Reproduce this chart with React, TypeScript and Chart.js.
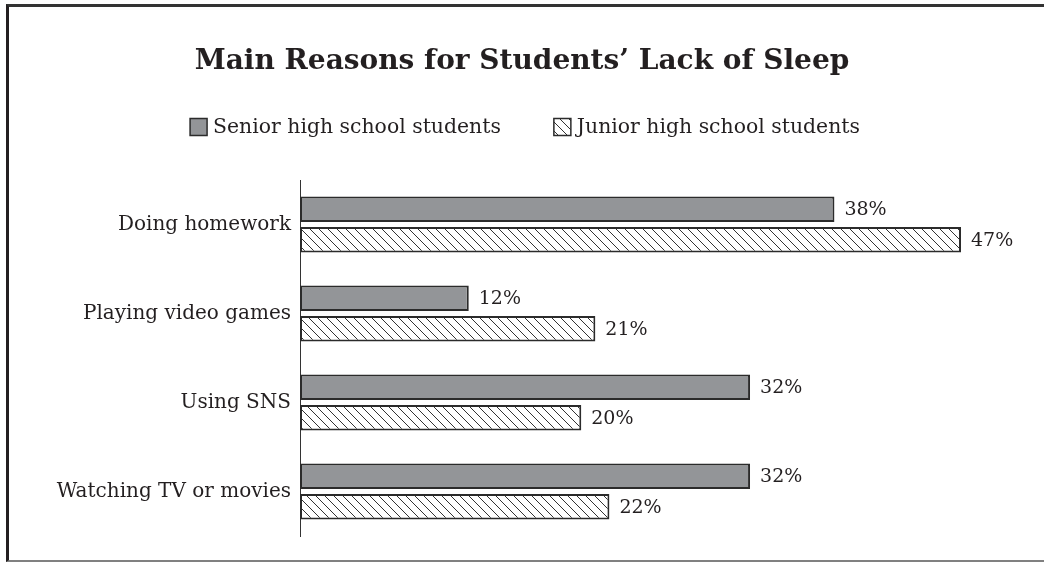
import React, { useEffect, useRef } from "react";
import { Chart, registerables } from "chart.js";

Chart.register(...registerables);

const titleText = "Main Reasons for Students’ Lack of Sleep";
const categories = ["Doing homework", "Playing video games", "Using SNS", "Watching TV or movies"];
const seriesNames = ["Senior high school students", "Junior high school students"];
const seniorValues = [38, 12, 32, 32];
const juniorValues = [47, 21, 20, 22];
const xMax = 52.9;

const FONT = "'DejaVu Serif', 'Liberation Serif', serif";
const TEXT = "#231f20";
const EDGE = "#2b2b2b";
const GRAY = "#939598";

function makeHatch(): CanvasPattern | string {
  const s = 9;
  const c = document.createElement("canvas");
  c.width = s;
  c.height = s;
  const g = c.getContext("2d");
  if (!g) return "#ffffff";
  g.fillStyle = "#ffffff";
  g.fillRect(0, 0, s, s);
  g.strokeStyle = "#333333";
  g.lineWidth = 1;
  g.beginPath();
  g.moveTo(-1, -1);
  g.lineTo(s + 1, s + 1);
  g.moveTo(-1, s - 1);
  g.lineTo(1, s + 1);
  g.moveTo(s - 1, -1);
  g.lineTo(s + 1, 1);
  g.stroke();
  return g.createPattern(c, "repeat") || "#ffffff";
}

const legendPlugin = {
  id: "customLegend",
  afterDraw(chart: any) {
    const ctx = chart.ctx as CanvasRenderingContext2D;
    const box = 17;
    const gapText = 6;
    const gapItem = 53;
    const cy = 127;
    ctx.save();
    ctx.font = `20.4px ${FONT}`;
    ctx.textBaseline = "middle";
    ctx.textAlign = "left";
    const ds = chart.data.datasets;
    const widths = ds.map((d: any) => box + gapText + ctx.measureText(d.label).width);
    const total = widths.reduce((a: number, b: number) => a + b, 0) + gapItem * (ds.length - 1);
    let x = chart.width / 2 + 3 - total / 2;
    ds.forEach((d: any, i: number) => {
      ctx.fillStyle = d.backgroundColor;
      ctx.fillRect(x, cy - box / 2, box, box);
      ctx.strokeStyle = EDGE;
      ctx.lineWidth = 1.5;
      ctx.strokeRect(x, cy - box / 2, box, box);
      ctx.fillStyle = TEXT;
      ctx.fillText(d.label, x + box + gapText, cy + 1);
      x += widths[i] + gapItem;
    });
    ctx.restore();
  },
};

const valueLabelPlugin = {
  id: "valueLabels",
  afterDatasetsDraw(chart: any) {
    const ctx = chart.ctx as CanvasRenderingContext2D;
    ctx.save();
    ctx.font = `19px ${FONT}`;
    ctx.fillStyle = TEXT;
    ctx.textAlign = "left";
    ctx.textBaseline = "middle";
    chart.data.datasets.forEach((d: any, di: number) => {
      const meta = chart.getDatasetMeta(di);
      meta.data.forEach((bar: any, i: number) => {
        ctx.fillText(`${d.data[i]}%`, bar.x + 10, bar.y + 1);
      });
    });
    ctx.restore();
  },
};

export default function App() {
  const ref = useRef<HTMLCanvasElement | null>(null);
  useEffect(() => {
    if (!ref.current) return;
    const hatch = makeHatch();
    const chart = new Chart(ref.current, {
      type: "bar",
      data: {
        labels: categories,
        datasets: [
          {
            label: seriesNames[0],
            data: seniorValues,
            backgroundColor: GRAY,
            borderColor: EDGE,
            borderWidth: 2,
            borderSkipped: false,
            categoryPercentage: 0.685,
            barPercentage: 0.835,
          },
          {
            label: seriesNames[1],
            data: juniorValues,
            backgroundColor: hatch as any,
            borderColor: EDGE,
            borderWidth: 2,
            borderSkipped: false,
            categoryPercentage: 0.685,
            barPercentage: 0.835,
          },
        ],
      },
      options: {
        indexAxis: "y",
        animation: false,
        responsive: true,
        maintainAspectRatio: false,
        layout: { padding: { left: 0, right: 0, top: 0, bottom: 29 } },
        plugins: {
          legend: { display: false },
          tooltip: { enabled: false },
          title: {
            display: true,
            text: titleText,
            color: TEXT,
            font: { family: FONT, size: 28, weight: "bold" },
            padding: { top: 45, bottom: 101.4 },
          },
        },
        scales: {
          x: { display: false, min: 0, max: xMax },
          y: {
            grid: { display: false, drawTicks: false },
            border: { display: true, color: "#333333", width: 1 },
            ticks: { color: TEXT, font: { family: FONT, size: 20 }, padding: 9 },
            afterFit: (scale: any) => {
              scale.width = 300;
            },
          },
        },
      },
      plugins: [legendPlugin, valueLabelPlugin],
    });
    return () => chart.destroy();
  }, []);

  return (
    <div style={{ position: "absolute", left: 0, top: 0, width: 1044, height: 565, background: "#ffffff" }}>
      <div
        style={{
          position: "absolute",
          left: 6,
          top: 4,
          width: 1044,
          height: 558,
          borderLeft: "3px solid #231f20",
          borderTop: "3px solid #333333",
          borderBottom: "2px solid #808080",
          boxSizing: "border-box",
        }}
      />
      <canvas ref={ref} style={{ position: "absolute", left: 0, top: 0, width: 1044, height: 565 }} />
    </div>
  );
}
